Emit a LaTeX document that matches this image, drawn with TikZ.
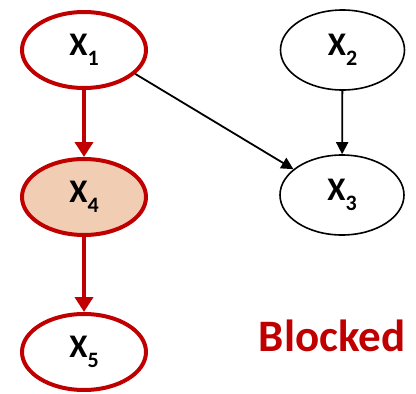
\documentclass[tikz,border=0pt]{standalone}
\usepackage{fontspec}
\setmainfont{Carlito}
\usetikzlibrary{shapes.geometric,arrows.meta}
\definecolor{dred}{RGB}{192,0,0}
\definecolor{peach}{RGB}{241,205,180}
\newcommand{\xlab}[1]{\fontsize{33}{33}\selectfont\bfseries X\raisebox{-10pt}{\fontsize{22}{22}\selectfont #1}}
\tikzset{
  rednode/.style={ellipse,draw=dred,line width=4pt,minimum width=124pt,minimum height=76pt,inner sep=0pt},
  blknode/.style={ellipse,draw=black,line width=1.6pt,minimum width=124pt,minimum height=80pt,inner sep=0pt},
  redarrow/.style={draw=dred,line width=4pt,-{Triangle[length=15pt,width=18pt]}},
  blkarrow/.style={draw=black,line width=1.8pt,-{Triangle[length=12pt,width=12pt]}}
}
\begin{document}
\begin{tikzpicture}[x=1pt,y=1pt]
\useasboundingbox (0,0) rectangle (416,-394);
\node[rednode] (x1) at (84,-50) {\xlab{1}};
\node[rednode,fill=peach] (x4) at (84,-197) {\xlab{4}};
\node[rednode] (x5) at (84,-352) {\xlab{5}};
\node[blknode] (x2) at (342.5,-50) {\xlab{2}};
\node[blknode] (x3) at (342,-195) {\xlab{3}};
\node[text=dred,font=\fontsize{45}{45}\selectfont\bfseries,anchor=base] (bl) at (332,-351) {Blocked};
\draw[redarrow] (x1) -- (x4);
\draw[redarrow] (x4) -- (x5);
\draw[blkarrow] (x2) -- (x3);
\draw[blkarrow] (x1.-25) -- (x3.152);
\end{tikzpicture}
\end{document}
